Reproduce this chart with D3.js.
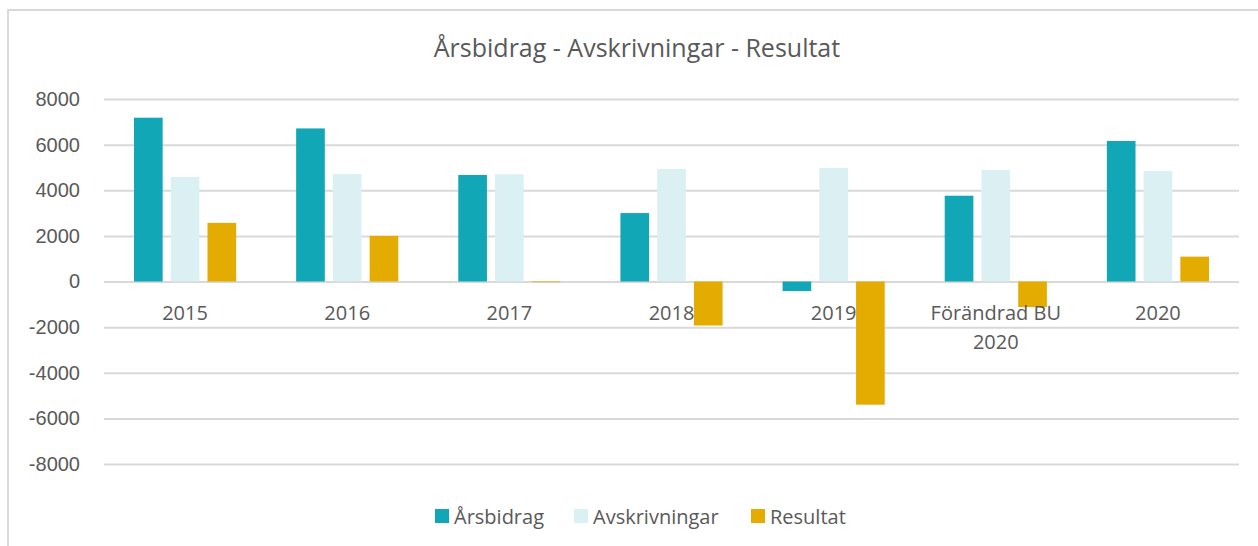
<!DOCTYPE html>
<html lang="sv">
<head>
<meta charset="utf-8">
<title>Årsbidrag - Avskrivningar - Resultat</title>
<script src="https://cdn.jsdelivr.net/npm/d3@7"></script>
<style>
  body { margin: 0; background: #fff; }
  svg { font-family: "Open Sans", "Liberation Sans", sans-serif; }
  .grid line { stroke: #d9d9d9; stroke-width: 2; }
  .grid path { display: none; }
  .tick text { fill: #595959; }
</style>
</head>
<body>
<script>
var categories = ["2015", "2016", "2017", "2018", "2019", "Förändrad BU 2020", "2020"];
var seriesNames = ["Årsbidrag", "Avskrivningar", "Resultat"];
var arsbidrag = [7180, 6710, 4670, 3000, -420, 3760, 6160];
var avskrivningar = [4580, 4710, 4700, 4930, 4980, 4890, 4850];
var resultat = [2570, 2000, -30, -1930, -5400, -1120, 1090];
var yTicks = [-8000, -6000, -4000, -2000, 0, 2000, 4000, 6000, 8000];
var colors = ["#12a7b6", "#daf0f3", "#e4ac00"];

var W = 1258, H = 546;
var margin = {top: 99, right: 19, bottom: 82, left: 104};
var width = W - margin.left - margin.right,
    height = H - margin.top - margin.bottom;

var svg = d3.select("body").append("svg")
  .attr("width", W).attr("height", H);

// chart frame (top and left edges visible)
svg.append("path")
  .attr("d", "M8,546 V10 H1258")
  .attr("fill", "none").attr("stroke", "#d9d9d9").attr("stroke-width", 2);

svg.append("text")
  .attr("x", 637).attr("y", 57)
  .attr("text-anchor", "middle")
  .style("font-size", "25px").style("fill", "#595959")
  .text("Årsbidrag - Avskrivningar - Resultat");

var g = svg.append("g")
  .attr("transform", "translate(" + margin.left + "," + margin.top + ")");

var y = d3.scaleLinear().domain([-8000, 8000]).range([365, 0]);
var x0 = d3.scaleBand().domain(categories).range([0, width]).paddingInner(0.37).paddingOuter(0.185);
var x1 = d3.scaleBand().domain(seriesNames).range([0, x0.bandwidth()]).paddingInner(0.22);

var yAxis = d3.axisLeft(y).tickValues(yTicks).tickSize(-width).tickPadding(24)
  .tickFormat(function(d) { return String(d); });
var gy = g.append("g").attr("class", "grid").call(yAxis);
gy.selectAll("text").style("font-size", "20px");

var data = categories.map(function(c, i) {
  return {cat: c, vals: [arsbidrag[i], avskrivningar[i], resultat[i]]};
});

var groups = g.selectAll(".grp").data(data).enter().append("g")
  .attr("transform", function(d) { return "translate(" + x0(d.cat) + ",0)"; });

groups.selectAll("rect").data(function(d) {
  return d.vals.map(function(v, k) { return {name: seriesNames[k], v: v, k: k}; });
}).enter().append("rect")
  .attr("x", function(d) { return x1(d.name); })
  .attr("width", x1.bandwidth())
  .attr("y", function(d) { return y(Math.max(0, d.v)); })
  .attr("height", function(d) { return Math.abs(y(d.v) - y(0)); })
  .attr("fill", function(d) { return colors[d.k]; });

// category labels just under the zero line
var lab = g.selectAll(".cat").data(categories).enter().append("text")
  .attr("text-anchor", "middle")
  .attr("x", function(d) { return x0(d) + x0.bandwidth() / 2; })
  .attr("y", y(0) + 38)
  .style("font-size", "20px").style("fill", "#595959");
lab.each(function(d) {
  var t = d3.select(this);
  var parts = d === "Förändrad BU 2020" ? ["Förändrad BU", "2020"] : [d];
  parts.forEach(function(p, i) {
    t.append("tspan").attr("x", t.attr("x")).attr("dy", i === 0 ? 0 : 29).text(p);
  });
});

// legend
var legendX = [435, 574, 751];
var leg = svg.selectAll(".leg").data(seriesNames).enter().append("g")
  .attr("transform", function(d, i) { return "translate(" + legendX[i] + ",509)"; });
leg.append("rect").attr("width", 14).attr("height", 14)
  .attr("fill", function(d, i) { return colors[i]; });
leg.append("text").attr("x", 19).attr("y", 15)
  .style("font-size", "20px").style("fill", "#595959")
  .text(function(d) { return d; });
</script>
</body>
</html>
